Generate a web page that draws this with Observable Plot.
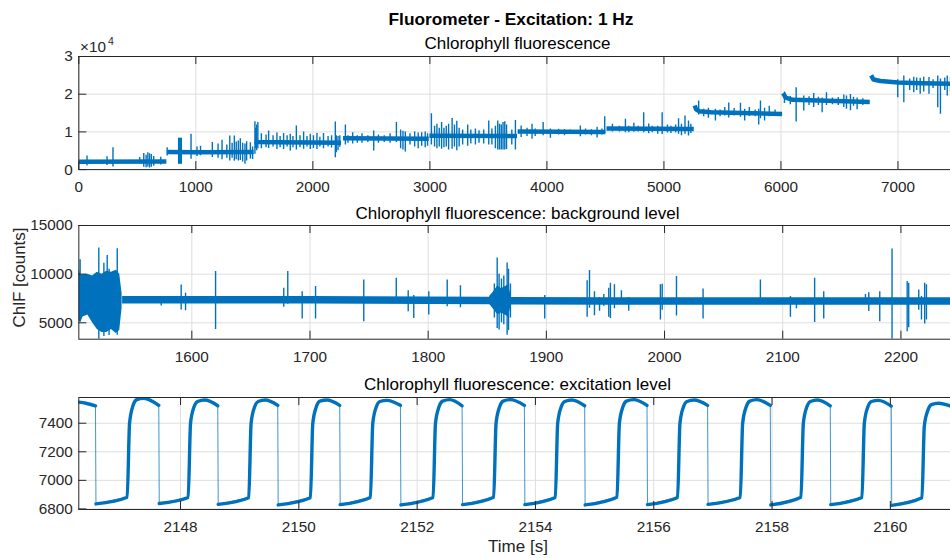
<!DOCTYPE html>
<html><head><meta charset="utf-8">
<script src="https://cdn.jsdelivr.net/npm/d3@7"></script>
<script src="https://cdn.jsdelivr.net/npm/@observablehq/plot@0.6"></script>
<style>
html,body{margin:0;padding:0;background:#fff;overflow:hidden;width:950px;height:558px;}
#fig{position:relative;width:1000px;height:558px;font-family:"Liberation Sans",Arial,Helvetica,sans-serif;}
#fig svg.pnl{position:absolute;left:0;}
#labels{position:absolute;left:0;top:0;pointer-events:none;}
</style></head><body><div id="fig"></div>
<script>
// ---------- Panel 1: Chlorophyll fluorescence (overall) ----------
const p1Time  = [0, 748, 751, 754, 1000, 1494, 1498, 1503, 1530, 1700, 2241, 2250, 2258, 2990, 2993, 2996, 3745, 3748, 3750, 4500, 4505, 4509, 5255, 5259, 5263, 5275, 5300, 5400, 6010, 6015, 6019, 6040, 6100, 6759, 6765, 6771, 6790, 6850, 7000, 7200, 7506];
const p1Level = [2100, 2150, null, 4700, 4600, 4650, null, 7450, 7300, 7250, 7150, null, 8300, 8200, null, 8950, 8900, null, 10100, 10000, null, 10900, 10800, null, 17000, 16000, 15500, 15200, 14750, null, 20300, 19100, 18500, 17900, null, 25000, 23900, 23500, 23100, 22900, 22700];
const p1SpikeT  = [70, 241, 292, 520, 555, 575, 590, 605, 620, 640, 700,
  755, 853, 860, 867, 876, 959, 1010, 1040, 1141, 1190, 1224, 1265, 1290, 1310, 1329, 1345, 1363, 1380, 1400, 1420, 1434, 1466, 1485,
  1505, 1512, 1520, 1530, 1560, 1600, 1622, 1660, 1693, 1720, 1750, 1780, 1807, 1830, 1859, 1890, 1921, 1950, 1978, 2005, 2035, 2060, 2091, 2130, 2160, 2192, 2200, 2215, 2230,
  2278, 2300, 2340, 2380, 2420, 2470, 2520, 2560, 2610, 2660, 2714, 2750, 2770, 2790, 2830, 2870, 2900, 2930, 2960, 2980,
  3013, 3040, 3060, 3080, 3100, 3120, 3140, 3160, 3190, 3210, 3230, 3250, 3280, 3323, 3350, 3389, 3420, 3460, 3503, 3530, 3560, 3580, 3595, 3610, 3625, 3640, 3655, 3700, 3731,
  3780, 3830, 3873, 3900, 3968, 4030, 4100, 4150, 4200, 4286, 4330, 4380, 4429, 4470, 4494,
  4560, 4620, 4671, 4700, 4743, 4780, 4827, 4870, 4900, 4947, 4985, 5030, 5060, 5100, 5125, 5150, 5180, 5210, 5230,
  5297, 5340, 5380, 5440, 5480, 5520, 5554, 5600, 5654, 5690, 5730, 5780, 5810, 5825, 5860, 5900, 5950,
  6030, 6080, 6130, 6195, 6240, 6280, 6320, 6352, 6389, 6440, 6490, 6537, 6560, 6594, 6620, 6651, 6700,
  6998, 7050, 7100, 7135, 7160, 7190, 7220, 7265, 7300, 7340, 7363, 7400, 7421, 7449, 7480];
const p1SpikeHi = [3600, 3400, 5800, 3200, 4300, 3800, 4500, 4200, 4000, 3500, 3300,
  5800, 8300, 8300, 8300, 8300, 9400, 6000, 6200, 7200, 6800, 7780, 6500, 8900, 7000, 8920, 7300, 7600, 8200, 7000, 6800, 7400, 7100, 6000,
  12720, 11000, 11800, 12500, 9500, 9200, 10250, 9000, 9700, 8800, 9600, 9000, 9370, 8800, 11580, 9000, 10000, 8800, 9400, 9000, 9600, 8600, 9600, 8800, 9000, 12640, 9000, 8800, 9000,
  11840, 9000, 9800, 9000, 9500, 9000, 10250, 9200, 9000, 9500, 12460, 10500, 10200, 10000, 9500, 10000, 9700, 9800, 10000, 9500,
  14840, 11500, 12000, 11000, 12500, 11000, 11500, 12000, 13560, 11800, 12800, 11000, 10500, 11800, 10500, 10800, 10300, 10500, 12900, 10800, 11500, 12900, 12000, 11800, 12500, 12700, 11800, 10500, 13000,
  11580, 11000, 12000, 10800, 12460, 10800, 10700, 10600, 10500, 11580, 10800, 10600, 11200, 10800, 14050,
  12000, 11500, 13360, 11500, 12300, 11500, 15100, 12100, 11500, 11500, 15100, 11800, 11500, 11800, 13500, 12000, 14200, 12900, 12000,
  18200, 16000, 16300, 16000, 15800, 16500, 17690, 16200, 17600, 16000, 16500, 15800, 16000, 18200, 16300, 16800, 15800,
  20600, 19400, 21740, 19500, 19300, 20200, 19200, 19000, 20400, 19000, 19100, 19800, 19500, 19900, 19200, 19000, 18800,
  23800, 24800, 24000, 24500, 24300, 24200, 24500, 24400, 23800, 24800, 24000, 24300, 24850, 24500, 24200];
const p1SpikeLo = [950, 1100, 700, 1500, 600, 500, 700, 400, 600, 900, 1200,
  3600, 1400, 1400, 1400, 1400, 2730, 3500, 3700, 3200, 3000, 2600, 3000, 2280, 3000, 2200, 2600, 2300, 2400, 2000, 1400, 2300, 2800, 2700,
  4060, 5500, 5000, 5500, 5500, 5800, 5600, 6000, 5300, 5800, 5300, 6000, 4940, 5800, 5200, 5800, 5400, 6000, 5300, 5600, 5300, 6000, 5500, 6000, 5700, 3160, 4500, 5000, 5900,
  6500, 7000, 6800, 7000, 7000, 7200, 4940, 7000, 7200, 7000, 7200, 5500, 5200, 4670, 6500, 6000, 5500, 6200, 5800, 6200,
  6500, 6000, 5500, 6000, 5400, 5800, 6000, 5200, 5400, 6000, 5000, 6000, 6500, 6200, 6800, 6500, 7000, 6800, 6500, 6500, 5500, 5200, 5200, 5200, 5200, 5200, 5300, 6500, 5200,
  8500, 8800, 8050, 8800, 9000, 8300, 9200, 9000, 9300, 8700, 9200, 9000, 8400, 9200, 9500,
  10000, 10000, 9800, 9800, 9900, 10000, 9800, 9500, 9800, 9400, 9300, 9700, 9600, 9800, 9400, 9000, 9400, 8920, 9600,
  14500, 14000, 13600, 12900, 14000, 14200, 13700, 14200, 13900, 12900, 14100, 14000, 11840, 13500, 12900, 14000, 14200,
  17500, 17200, 12640, 15560, 17000, 16500, 17000, 15100, 17000, 17200, 17000, 16500, 16000, 15600, 16800, 15900, 17000,
  19080, 17760, 21000, 20400, 21000, 20000, 20600, 20000, 21500, 16430, 14680, 21000, 19540, 20500, 21000];
const p1XTicks = [0, 1000, 2000, 3000, 4000, 5000, 6000, 7000];
const p1YTicks = [0, 10000, 20000, 30000];

// ---------- Panel 2: background level ----------
const bgTime  = [1541, 1600, 1700, 1800, 1850, 1870, 1950, 2050, 2150, 2247.6];
const bgLevel = [7380, 7380, 7370, 7330, 7300, 7260, 7250, 7250, 7240, 7250];
const bgNoiseT  = [1504.4, 1506, 1508, 1512, 1516, 1520, 1524, 1528, 1532, 1536, 1539, 1541, null, 1852, 1856, 1859, 1862, 1865, 1868, 1870];
const bgNoiseHi = [10500, 9900, 9900, 10000, 9800, 10200, 10000, 10300, 10200, 10400, 10000, 8000, null, 7700, 8300, 8800, 8500, 8700, 8900, 7800];
const bgNoiseLo = [5200, 5000, 5600, 5800, 5000, 4300, 4000, 4000, 4300, 3900, 4200, 6500, null, 6900, 6300, 5800, 6000, 5800, 5600, 6700];
const bgSpikeT  = [1505.5, 1521.3, 1525.6, 1528.4, 1530, 1536.9, 1574.1, 1591, 1594.7, 1620.1, 1677.8, 1681.2, 1693.4, 1704.7, 1745.5, 1773, 1783.1, 1787.8, 1800.5, 1816.1, 1827.3,
  1856, 1858.4, 1860, 1862, 1864, 1866.8, 1868, 1869.6, 1898.6, 1934.5, 1936.5, 1940.7, 1945, 1948.6, 1952.8, 1954.2, 1957.6, 1963.5, 1969.7, 1996.5, 1998, 2010.1, 2032.6, 2081.1,
  2106.5, 2111.6, 2127, 2134.7, 2170, 2172.8, 2182.1, 2192.5, 2205.3, 2206.6, 2215.1, 2217.4, 2220.1, 2221.6];
const bgSpikeHi = [11480, 12690, 11130, 11910, 10500, 12600, 7500, 8895, 8037, 10270, 8554, 10270, 8200, 8720, 9410, 9590, 8300, 7800, 8200, 9410, 8820,
  9000, 11650, 10000, 9500, 9800, 11135, 10500, 9000, 7800, 9310, 10370, 8200, 7600, 7900, 8550, 9070, 8900, 8300, 7600, 8900, 8950, 9750, 8480, 9410,
  7700, 7500, 9590, 8200, 7900, 8100, 8200, 12580, 9240, 9070, 8370, 7700, 9070, 8900];
const bgSpikeLo = [5100, 3320, 3600, 4500, 3700, 3730, 6725, 6312, 6240, 4318, 6590, 6900, 5380, 5380, 5100, 7000, 6140, 5450, 5800, 6650, 6550,
  5500, 4420, 4250, 5000, 4800, 3730, 4200, 5500, 5380, 5560, 6500, 5720, 6200, 6700, 5560, 5450, 6450, 6900, 6200, 5280, 6300, 5690, 5380, 6900,
  5560, 6450, 5040, 5380, 6900, 6150, 5100, 3316, 4070, 4500, 6280, 5280, 4870, 5280];
const bgXTicks = [1600, 1700, 1800, 1900, 2000, 2100, 2200];
const bgYTicks = [5000, 10000, 15000];

// ---------- Panel 3: excitation level ----------
const excTime = [2146.28, 2146.40,
  2146.562, 2146.570, 2147.098, 2147.138, 2147.198, 2147.258, 2147.378,
  2147.632, 2147.640, 2148.129, 2148.169, 2148.229, 2148.289, 2148.409,
  2148.629, 2148.637, 2149.153, 2149.193, 2149.253, 2149.313, 2149.433,
  2149.643, 2149.651, 2150.196, 2150.236, 2150.296, 2150.356, 2150.476,
  2150.691, 2150.699, 2151.210, 2151.250, 2151.310, 2151.370, 2151.490,
  2151.717, 2151.725, 2152.270, 2152.310, 2152.370, 2152.430, 2152.550,
  2152.760, 2152.768, 2153.294, 2153.334, 2153.394, 2153.454, 2153.574,
  2153.813, 2153.821, 2154.336, 2154.376, 2154.436, 2154.496, 2154.616,
  2154.832, 2154.840, 2155.379, 2155.419, 2155.479, 2155.539, 2155.659,
  2155.886, 2155.894, 2156.403, 2156.443, 2156.503, 2156.563, 2156.683,
  2156.910, 2156.918, 2157.463, 2157.503, 2157.563, 2157.623, 2157.743,
  2157.970, 2157.978, 2158.489, 2158.529, 2158.589, 2158.649, 2158.769,
  2158.984, 2158.992, 2159.520, 2159.560, 2159.620, 2159.680, 2159.800,
  2160.015, 2160.023, 2160.534, 2160.574, 2160.634, 2160.694, 2160.814,
  2161.13];
const excLevel = [7548, 7540,
  7522, 6835, 6882, 7400, 7525, 7565, 7575,
  7525, 6838, 6880, 7400, 7515, 7552, 7562,
  7522, 6832, 6878, 7400, 7515, 7552, 7562,
  7525, 6828, 6878, 7400, 7515, 7555, 7562,
  7525, 6830, 6880, 7400, 7515, 7552, 7560,
  7525, 6828, 6880, 7400, 7515, 7555, 7565,
  7522, 6830, 6882, 7400, 7515, 7555, 7565,
  7525, 6830, 6880, 7400, 7515, 7552, 7562,
  7522, 6828, 6882, 7400, 7515, 7555, 7565,
  7525, 6830, 6880, 7400, 7515, 7552, 7562,
  7525, 6832, 6880, 7400, 7515, 7555, 7565,
  7525, 6828, 6882, 7400, 7515, 7552, 7562,
  7522, 6830, 6880, 7400, 7515, 7552, 7560,
  7520, 6825, 6878, 7380, 7490, 7530, 7540,
  7500];
const excXTicks = [2148, 2150, 2152, 2154, 2156, 2158, 2160];
const excYTicks = [6800, 7000, 7200, 7400];

// ---------- text ----------
const figTitle = "Fluorometer - Excitation: 1 Hz";
const panelTitles = ["Chlorophyll fluorescence", "Chlorophyll fluorescence: background level", "Chlorophyll fluorescence: excitation level"];
const yLabel = "ChlF [counts]";
const xLabel = "Time [s]";

// ---------- build ----------
const BLUE = "#0072BD", AX = "#262626", GRID = "#dedede";
const FL = 78.3, FR = 956.7, W = 1000;
const fig = document.getElementById("fig");

function panel({xDomain, yDomain, xTicks, yTicks, yFmt, marks, top, h}) {
  const mt = 10, mb = 36, innerW = FR - FL;
  const chart = Plot.plot({
    width: W, height: h + mt + mb,
    marginLeft: FL, marginRight: W - FR, marginTop: mt, marginBottom: mb,
    style: {fontFamily: '"Liberation Sans", Arial, sans-serif', fontSize: "15.3px", color: AX, background: "transparent", overflow: "visible"},
    x: {type: "linear", domain: xDomain},
    y: {type: "linear", domain: yDomain},
    marks: [
      Plot.gridX({ticks: xTicks, stroke: GRID, strokeOpacity: 1, strokeWidth: 1}),
      Plot.gridY({ticks: yTicks, stroke: GRID, strokeOpacity: 1, strokeWidth: 1}),
      ...marks,
      Plot.ruleX(xTicks, {stroke: AX, strokeWidth: 1, insetBottom: h - 8}),
      Plot.ruleX(xTicks, {stroke: AX, strokeWidth: 1, insetTop: h - 8}),
      Plot.ruleY(yTicks, {stroke: AX, strokeWidth: 1, insetRight: innerW - 8}),
      Plot.frame({stroke: AX, strokeWidth: 1}),
      Plot.axisX({ticks: xTicks, tickSize: 0, tickPadding: 11.5, label: null, tickFormat: d => String(d)}),
      Plot.axisY({ticks: yTicks, tickSize: 0, tickPadding: 6, label: null, tickFormat: yFmt || (d => String(d))})
    ]
  });
  chart.classList.add("pnl");
  chart.style.top = (top - mt) + "px";
  fig.appendChild(chart);
}

// Panel 1
const p1Rows = p1Time.map((t, i) => ({t, v: p1Level[i]}));
const p1Spikes = p1SpikeT.map((t, i) => ({t, hi: p1SpikeHi[i], lo: p1SpikeLo[i]}));
panel({
  xDomain: [0, 7506], yDomain: [0, 30000], xTicks: p1XTicks, yTicks: p1YTicks,
  yFmt: d => String(d / 1e4), top: 55.5, h: 113.1,
  marks: [
    Plot.ruleX(p1Spikes, {x: "t", y1: "lo", y2: "hi", stroke: BLUE, strokeWidth: 1.4, clip: true}),
    Plot.line(p1Rows, {x: "t", y: "v", stroke: BLUE, strokeWidth: 4.5, strokeLinecap: "butt", clip: true})
  ]
});

// Panel 2
const bgRows = bgTime.map((t, i) => ({t, v: bgLevel[i]}));
const bgNoise = bgNoiseT.map((t, i) => ({t, hi: bgNoiseHi[i], lo: bgNoiseLo[i]}));
const bgSpikes = bgSpikeT.map((t, i) => ({t, hi: bgSpikeHi[i], lo: bgSpikeLo[i]}));
panel({
  xDomain: [1504.4, 2247.6], yDomain: [3316, 15000], xTicks: bgXTicks, yTicks: bgYTicks,
  top: 225.3, h: 113.7,
  marks: [
    Plot.areaY(bgNoise, {x: "t", y1: "lo", y2: "hi", fill: BLUE, clip: true}),
    Plot.ruleX(bgSpikes, {x: "t", y1: "lo", y2: "hi", stroke: BLUE, strokeWidth: 1.4, clip: true}),
    Plot.line(bgRows, {x: "t", y: "v", stroke: BLUE, strokeWidth: 7.5, strokeLinecap: "butt", clip: true})
  ]
});

// Panel 3
let seg = 0;
const excRows = excTime.map((t, i) => {
  if (i > 0 && excLevel[i] < excLevel[i - 1] - 300) seg++;
  return {t, v: excLevel[i], seg};
});
panel({
  xDomain: [2146.28, 2161.13], yDomain: [6796, 7580], xTicks: excXTicks, yTicks: excYTicks,
  top: 396.7, h: 112,
  marks: [
    Plot.line(excRows, {x: "t", y: "v", stroke: BLUE, strokeWidth: 1, strokeOpacity: 0.75, clip: true}),
    Plot.line(excRows, {x: "t", y: "v", z: "seg", stroke: BLUE, strokeWidth: 3.4, curve: "monotone-x", clip: true})
  ]
});

// overlay text
const ov = `<svg id="labels" width="${W}" height="558" xmlns="http://www.w3.org/2000/svg" font-family='"Liberation Sans", Arial, sans-serif' fill="#000">
  <text x="511" y="25" text-anchor="middle" font-weight="bold" font-size="17.3">${figTitle}</text>
  <text x="517.5" y="48.5" text-anchor="middle" font-size="17">${panelTitles[0]}</text>
  <text x="517.5" y="219" text-anchor="middle" font-size="17">${panelTitles[1]}</text>
  <text x="517.5" y="389.5" text-anchor="middle" font-size="17">${panelTitles[2]}</text>
  <text x="80" y="52.3" font-size="15.3" fill="${AX}">×10</text>
  <text x="108" y="45" font-size="10.5" fill="${AX}">4</text>
  <text transform="translate(24.5,277.5) rotate(-90)" text-anchor="middle" font-size="17" fill="${AX}">${yLabel}</text>
  <text x="518" y="552" text-anchor="middle" font-size="17" fill="${AX}">${xLabel}</text>
</svg>`;
fig.insertAdjacentHTML("beforeend", ov);
</script></body></html>
